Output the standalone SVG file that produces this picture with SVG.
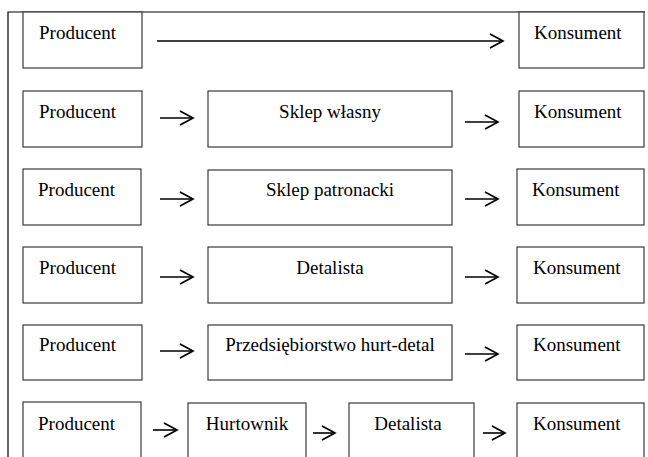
<svg xmlns="http://www.w3.org/2000/svg" width="648" height="457" viewBox="0 0 648 457">
<defs>
<style>
.box{fill:#fff;stroke:#3a3a3a;stroke-width:1.2}
text{font-family:"Liberation Serif","Times New Roman",Tinos,"DejaVu Serif",serif;font-size:19px;fill:#000}
.c{text-anchor:middle}
.a{stroke:#000;stroke-width:1.6;fill:none;marker-end:url(#ah)}
.frame{stroke:#000;stroke-width:1.2;fill:none}
</style>
<marker id="ah" markerUnits="userSpaceOnUse" markerWidth="16" markerHeight="16" refX="13" refY="7" orient="auto" overflow="visible">
<path d="M0,0 L13,7 L0,14" fill="none" stroke="#000" stroke-width="1.7"/>
</marker>
</defs>
<rect width="648" height="457" fill="#fff"/>
<path class="frame" d="M8,457 V12 H645"/>
<g id="r1p"><rect class="box" x="23" y="12" width="119" height="56"/><text x="39" y="39">Producent</text></g>
<g id="r1k"><rect class="box" x="519" y="12" width="125" height="56"/><text x="534" y="39">Konsument</text></g>
<g id="r2p"><rect class="box" x="23" y="91" width="119" height="56"/><text x="39" y="118">Producent</text></g>
<g id="r2s"><rect class="box" x="208" y="91" width="244" height="56"/><text class="c" x="330" y="118">Sklep własny</text></g>
<g id="r2k"><rect class="box" x="519" y="91" width="125" height="56"/><text x="534" y="118">Konsument</text></g>
<g id="r3p"><rect class="box" x="23" y="169" width="118" height="56"/><text x="38" y="196">Producent</text></g>
<g id="r3s"><rect class="box" x="208" y="170" width="244" height="55"/><text class="c" x="330" y="196">Sklep patronacki</text></g>
<g id="r3k"><rect class="box" x="517" y="169" width="127" height="56"/><text x="532" y="196">Konsument</text></g>
<g id="r4p"><rect class="box" x="23" y="247" width="119" height="56"/><text x="39" y="274">Producent</text></g>
<g id="r4d"><rect class="box" x="208" y="247" width="244" height="56"/><text class="c" x="330" y="274">Detalista</text></g>
<g id="r4k"><rect class="box" x="517" y="247" width="127" height="56"/><text x="533" y="274">Konsument</text></g>
<g id="r5p"><rect class="box" x="23" y="325" width="119" height="55"/><text x="39" y="351">Producent</text></g>
<g id="r5h"><rect class="box" x="208" y="325" width="244" height="55"/><text class="c" x="330" y="351">Przedsiębiorstwo hurt-detal</text></g>
<g id="r5k"><rect class="box" x="517" y="325" width="127" height="55"/><text x="533" y="351">Konsument</text></g>
<g id="r6p"><rect class="box" x="23" y="402" width="118" height="62"/><text x="38" y="430">Producent</text></g>
<g id="r6h"><rect class="box" x="188" y="403" width="118" height="62"/><text class="c" x="247" y="430">Hurtownik</text></g>
<g id="r6d"><rect class="box" x="349" y="403" width="125" height="62"/><text class="c" x="408" y="430">Detalista</text></g>
<g id="r6k"><rect class="box" x="517" y="403" width="127" height="62"/><text x="533" y="430">Konsument</text></g>
<g id="connectors">
<line class="a" x1="157" y1="41" x2="503" y2="41"/>
<line class="a" x1="160" y1="118" x2="193" y2="118"/>
<line class="a" x1="465" y1="122" x2="498" y2="122"/>
<line class="a" x1="160" y1="199" x2="193" y2="199"/>
<line class="a" x1="465" y1="199" x2="498" y2="199"/>
<line class="a" x1="160" y1="277" x2="193" y2="277"/>
<line class="a" x1="465" y1="277" x2="498" y2="277"/>
<line class="a" x1="160" y1="351" x2="193" y2="351"/>
<line class="a" x1="465" y1="354" x2="498" y2="354"/>
<line class="a" x1="153" y1="430" x2="177" y2="430"/>
<line class="a" x1="313" y1="433" x2="335" y2="433"/>
<line class="a" x1="483" y1="433" x2="505" y2="433"/>
</g>
</svg>
